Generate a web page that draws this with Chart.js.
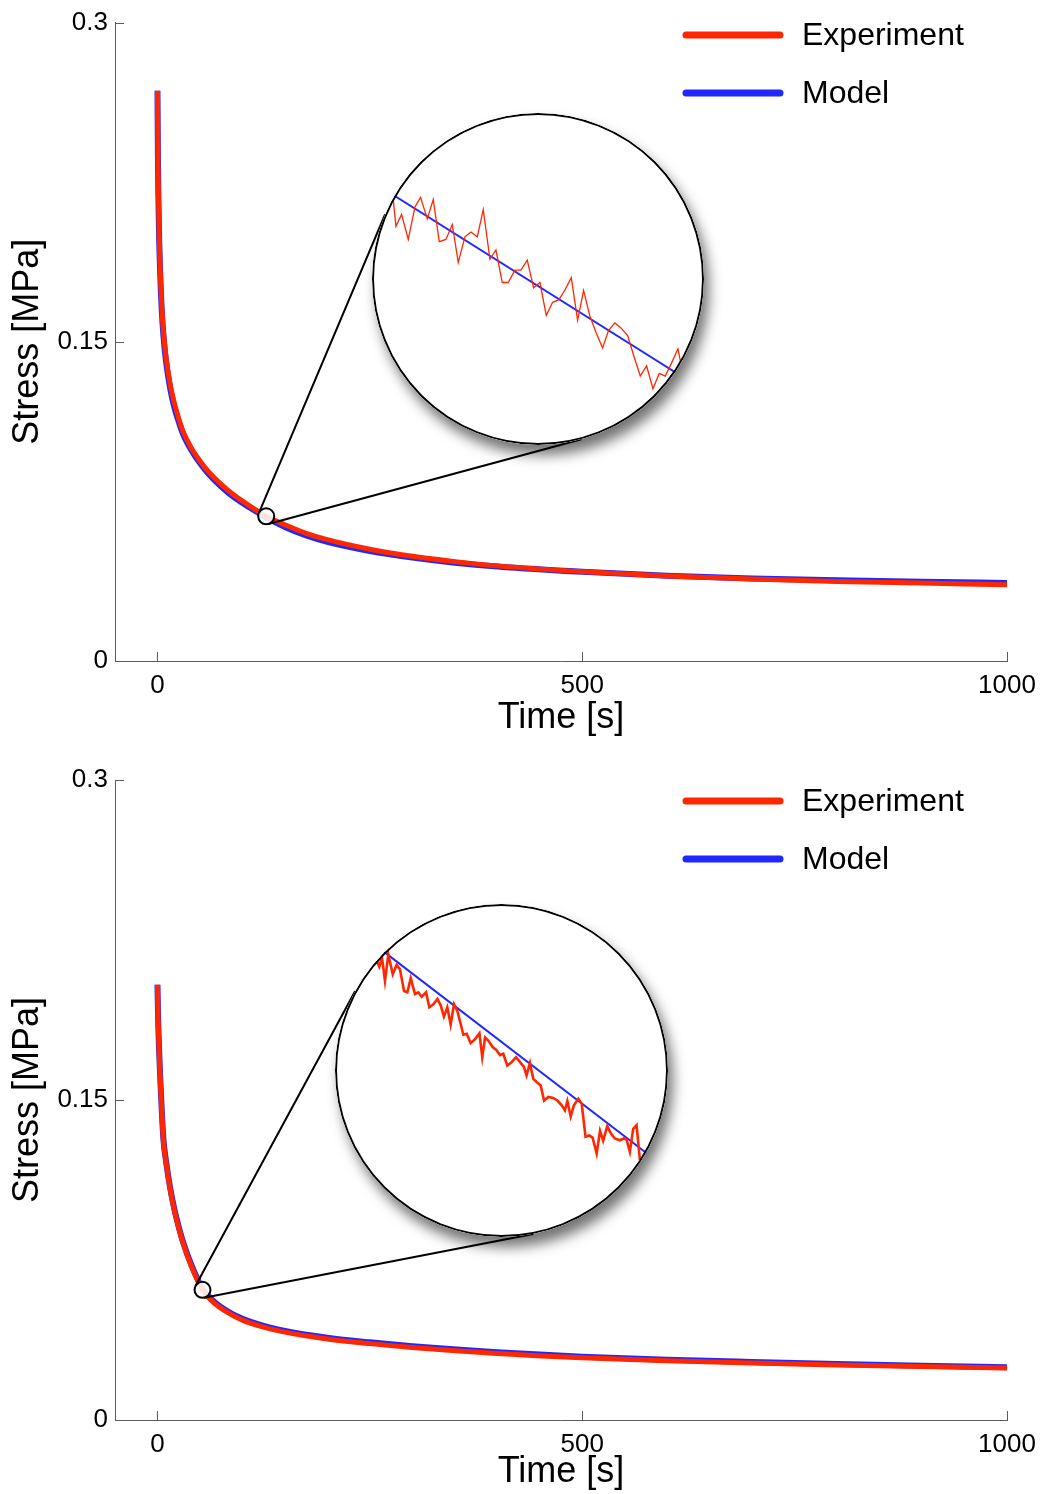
<!DOCTYPE html>
<html>
<head>
<meta charset="utf-8">
<script src="https://cdn.jsdelivr.net/npm/chart.js@4.4.1/dist/chart.umd.min.js"></script>
<style>
    html, body { margin: 0; padding: 0; background: #fff; }
    #page { position: relative; width: 1045px; height: 1494px; overflow: hidden; }
    .main { position: absolute; left: 0; }
    .lens { position: absolute; border-radius: 50%; overflow: hidden; background: #fff;
            box-shadow: 5px 10px 13px rgba(0, 0, 0, 0.55); }
    .lens::after { content: ""; position: absolute; left: 0; top: 0; right: 0; bottom: 0;
                   border: 2px solid #000; border-radius: 50%; }
    .lens canvas { display: block; }
</style>
</head>
<body>
<div id="page">
    <canvas id="top-chart" class="main" width="1045" height="747" style="top:0"></canvas>
    <canvas id="bottom-chart" class="main" width="1045" height="747" style="top:747px"></canvas>
    <div class="lens" style="left:372px;top:113px;width:332px;height:332px">
        <canvas id="top-inset" width="332" height="332"></canvas>
    </div>
    <div class="lens" style="left:335px;top:904px;width:333px;height:333px">
        <canvas id="bottom-inset" width="333" height="333"></canvas>
    </div>
</div>
<script>
const X_TICKS = [0, 500, 1000];
const Y_TICKS = [0, 0.15, 0.3];
const X_RANGE = [-50, 1000];
const Y_RANGE = [0, 0.3];

// stress relaxation, upper panel (time in s, stress in MPa)
const TOP_TIME = [0, 0.5, 1, 2, 3, 5, 7, 10, 15, 20, 25, 30, 40, 50, 60, 75, 90, 110, 128, 150, 175, 200, 250, 300, 350, 400, 500, 600, 700, 800, 900, 1000];
const TOP_EXPERIMENT = [0.268, 0.240, 0.222, 0.200, 0.186, 0.167, 0.155, 0.143, 0.130, 0.121, 0.114, 0.108, 0.100, 0.094, 0.089, 0.083, 0.078, 0.0725, 0.068, 0.0640, 0.0600, 0.0570, 0.0525, 0.0492, 0.0467, 0.0447, 0.0420, 0.0400, 0.0385, 0.0374, 0.0366, 0.0358];
const TOP_MODEL = [0.268, 0.238, 0.220, 0.198, 0.184, 0.165, 0.153, 0.141, 0.128, 0.119, 0.1125, 0.1068, 0.099, 0.093, 0.088, 0.082, 0.077, 0.0718, 0.0675, 0.0630, 0.0590, 0.0560, 0.0517, 0.0486, 0.0462, 0.0444, 0.0419, 0.0401, 0.0388, 0.0379, 0.0372, 0.0367];
const TOP_MARK = [128, 0.068];

// lower panel
const BOTTOM_TIME = [0, 0.5, 1, 2, 3, 5, 7, 10, 15, 20, 25, 30, 40, 53, 65, 80, 100, 125, 150, 200, 250, 300, 400, 500, 600, 700, 800, 900, 1000];
const BOTTOM_EXPERIMENT = [0.204, 0.193, 0.184, 0.172, 0.162, 0.145, 0.131, 0.121, 0.108, 0.098, 0.090, 0.083, 0.072, 0.061, 0.0555, 0.0510, 0.0468, 0.0435, 0.0412, 0.0380, 0.0358, 0.0340, 0.0312, 0.0292, 0.0278, 0.0267, 0.0258, 0.0251, 0.0244];
const BOTTOM_MODEL = [0.204, 0.1935, 0.1846, 0.1726, 0.1626, 0.1456, 0.1316, 0.1216, 0.1086, 0.0986, 0.0906, 0.0836, 0.0726, 0.0616, 0.0561, 0.0516, 0.0474, 0.0441, 0.0418, 0.0386, 0.0364, 0.0346, 0.0318, 0.0297, 0.0283, 0.0272, 0.0262, 0.0254, 0.0247];
const BOTTOM_MARK = [53, 0.061];

// zoomed windows (time in s, stress in kPa)
const TOP_INSET_TIME = [119.80, 119.95, 120.27, 120.65, 121.03, 121.35, 121.73, 122.07, 122.41, 122.79, 123.15, 123.49, 123.87, 124.21, 124.57, 124.91, 125.29, 125.63, 125.99, 126.33, 126.71, 127.05, 127.41, 127.77, 128.13, 128.49, 128.85, 129.21, 129.55, 129.91, 130.27, 130.61, 130.97, 131.33, 131.69, 132.03, 132.39, 132.75, 133.11, 133.47, 133.83, 134.19, 134.55, 134.91, 135.25, 135.61, 135.97, 136.13];
const TOP_INSET_EXPERIMENT = [69.91, 69.32, 69.59, 69.02, 69.76, 69.98, 69.49, 69.93, 68.97, 69.02, 69.36, 68.50, 69.08, 69.19, 69.08, 69.70, 68.57, 68.78, 68.04, 68.04, 68.32, 68.32, 68.55, 67.92, 68.04, 67.29, 67.59, 67.65, 67.87, 68.15, 67.18, 67.86, 67.27, 66.89, 66.55, 66.95, 67.12, 67.00, 66.83, 66.36, 65.91, 66.14, 65.62, 65.97, 65.91, 66.21, 66.53, 66.21];
const TOP_INSET_MODEL_TIME = [118.5, 137.5];
const TOP_INSET_MODEL = [70.36, 65.57];
const TOP_INSET_X = [118.59, 137.45];
const TOP_INSET_Y = [64.34, 71.90];

const BOTTOM_INSET_TIME = [45.93, 46.08, 46.23, 46.40, 46.59, 46.84, 47.06, 47.25, 47.48, 47.67, 47.86, 48.10, 48.29, 48.48, 48.73, 48.91, 49.14, 49.37, 49.56, 49.74, 49.93, 50.12, 50.31, 50.50, 50.84, 51.03, 51.25, 51.50, 51.75, 51.91, 52.07, 52.25, 52.50, 52.69, 52.92, 53.10, 53.33, 53.58, 53.82, 54.05, 54.27, 54.42, 54.61, 54.80, 54.99, 55.22, 55.41, 55.65, 55.93, 56.16, 56.41, 56.59, 56.73, 56.92, 57.10, 57.35, 57.54, 57.76, 57.97, 58.16, 58.39, 58.58, 58.76, 58.99, 59.20, 59.42, 59.70, 59.93, 60.08, 60.27, 60.46, 60.65, 60.84];
const BOTTOM_INSET_EXPERIMENT = [63.48, 63.35, 63.56, 63.03, 63.63, 63.18, 63.39, 63.29, 62.80, 62.77, 63.09, 62.73, 62.77, 62.67, 62.77, 62.43, 62.50, 62.62, 62.47, 62.22, 62.43, 62.04, 62.50, 62.35, 61.81, 61.83, 61.62, 61.71, 61.84, 61.30, 61.75, 61.68, 61.53, 61.47, 61.35, 61.38, 61.11, 61.19, 61.30, 61.19, 61.08, 60.89, 61.17, 60.81, 60.74, 60.66, 60.32, 60.40, 60.38, 60.32, 60.21, 60.10, 60.31, 59.96, 60.21, 60.36, 60.25, 59.50, 59.53, 59.48, 59.12, 59.63, 59.41, 59.74, 59.57, 59.46, 59.42, 59.46, 59.44, 59.16, 59.68, 59.76, 58.97];
const BOTTOM_INSET_MODEL_TIME = [45.0, 62.0];
const BOTTOM_INSET_MODEL = [64.10, 58.89];
const BOTTOM_INSET_X = [43.57, 62.43];
const BOTTOM_INSET_Y = [57.23, 64.77];

const RED = "rgb(255, 38, 0)";
const BLUE = "rgb(32, 40, 255)";
const AXIS = "#5c5c5c";
const FONT = "'Liberation Sans', Arial, Helvetica, sans-serif";

Chart.defaults.font.family = FONT;
Chart.defaults.color = "#000";

const toPoints = (xs, ys) => xs.map((x, i) => ({ x, y: ys[i] }));

const insideTicks = {
    id: "insideTicks",
    afterDraw(chart) {
        const { ctx, chartArea, scales } = chart;
        const len = 9;
        ctx.save();
        ctx.strokeStyle = AXIS;
        ctx.lineWidth = 1;
        ctx.beginPath();
        scales.x.ticks.forEach(t => {
            const px = Math.round(scales.x.getPixelForValue(t.value)) + 0.5;
            ctx.moveTo(px, chartArea.bottom);
            ctx.lineTo(px, chartArea.bottom - len);
        });
        scales.y.ticks.forEach(t => {
            const py = Math.round(scales.y.getPixelForValue(t.value)) + 0.5;
            ctx.moveTo(chartArea.left, py);
            ctx.lineTo(chartArea.left + len, py);
        });
        ctx.stroke();
        ctx.restore();
    }
};

const lineLegend = {
    id: "lineLegend",
    afterDraw(chart, args, opts) {
        const ctx = chart.ctx;
        ctx.save();
        chart.data.datasets.slice(0, 2).forEach((ds, i) => {
            const y = opts.top + i * opts.gap;
            ctx.strokeStyle = ds.borderColor;
            ctx.lineWidth = 7;
            ctx.lineCap = "round";
            ctx.beginPath();
            ctx.moveTo(opts.left, y);
            ctx.lineTo(opts.left + opts.length, y);
            ctx.stroke();
            ctx.fillStyle = "#000";
            ctx.font = "32px " + FONT;
            ctx.textBaseline = "middle";
            ctx.fillText(ds.label, opts.left + opts.length + 22, y + 1);
        });
        ctx.restore();
    }
};

// tangent lines from the marked point to the magnifier, then the marker itself
const lensLines = {
    id: "lensLines",
    afterDatasetsDraw(chart, args, opts) {
        const { ctx, scales } = chart;
        const cx = scales.x.getPixelForValue(opts.at[0]);
        const cy = scales.y.getPixelForValue(opts.at[1]);
        const r1 = opts.radius;
        const lens = opts.lens;
        const dx = lens.x - cx, dy = lens.y - cy;
        const d = Math.hypot(dx, dy);
        const ux = dx / d, uy = dy / d;
        const k = (r1 - lens.r) / d;
        const h = Math.sqrt(1 - k * k);
        ctx.save();
        ctx.strokeStyle = "#000";
        ctx.lineWidth = 2;
        ctx.beginPath();
        [1, -1].forEach(s => {
            const nx = k * ux - s * h * uy;
            const ny = k * uy + s * h * ux;
            ctx.moveTo(cx + r1 * nx, cy + r1 * ny);
            ctx.lineTo(lens.x + lens.r * nx, lens.y + lens.r * ny);
        });
        ctx.stroke();
        ctx.beginPath();
        ctx.arc(cx, cy, r1, 0, Math.PI * 2);
        ctx.fillStyle = "rgba(255, 255, 255, 0.88)";
        ctx.fill();
        ctx.stroke();
        ctx.restore();
    }
};

function renderMain(id, time, experiment, model, frame) {
    return new Chart(document.getElementById(id), {
        type: "line",
        data: {
            datasets: [
                {
                    label: "Experiment",
                    data: toPoints(time, experiment),
                    borderColor: RED,
                    borderWidth: 5,
                    cubicInterpolationMode: "monotone"
                },
                {
                    label: "Model",
                    data: toPoints(time, model),
                    borderColor: BLUE,
                    borderWidth: 6,
                    cubicInterpolationMode: "monotone"
                }
            ]
        },
        options: {
            responsive: false,
            animation: false,
            devicePixelRatio: 1,
            events: [],
            layout: { padding: { left: 0, right: 38, top: frame.top, bottom: 0 } },
            elements: { point: { radius: 0 }, line: { borderJoinStyle: "round", borderCapStyle: "butt" } },
            plugins: {
                legend: { display: false },
                tooltip: { enabled: false },
                lineLegend: frame.legend,
                lensLines: frame.lens
            },
            scales: {
                x: {
                    type: "linear",
                    min: X_RANGE[0],
                    max: X_RANGE[1],
                    afterBuildTicks: s => { s.ticks = X_TICKS.map(v => ({ value: v })); },
                    afterFit: s => { s.height = frame.xHeight; },
                    grid: { display: false, drawTicks: false },
                    border: { display: true, color: AXIS, width: 1 },
                    ticks: { padding: 9, maxRotation: 0, font: { size: 26 }, callback: v => String(v) },
                    title: {
                        display: true,
                        text: "Time [s]",
                        font: { size: 36 },
                        padding: { top: 0, bottom: frame.titlePad }
                    }
                },
                y: {
                    type: "linear",
                    min: Y_RANGE[0],
                    max: Y_RANGE[1],
                    afterBuildTicks: s => { s.ticks = Y_TICKS.map(v => ({ value: v })); },
                    afterFit: s => { s.width = 115; },
                    grid: { display: false, drawTicks: false },
                    border: { display: true, color: AXIS, width: 1 },
                    ticks: { padding: 7, font: { size: 26 }, callback: v => String(v) },
                    title: {
                        display: true,
                        text: "Stress [MPa]",
                        font: { size: 36 },
                        padding: { top: 6, bottom: 0 }
                    }
                }
            }
        },
        plugins: [insideTicks, lineLegend, lensLines]
    });
}

function renderInset(id, time, experiment, modelTime, model, xr, yr, redWidth) {
    return new Chart(document.getElementById(id), {
        type: "line",
        data: {
            datasets: [
                { data: toPoints(time, experiment), borderColor: RED, borderWidth: redWidth },
                { data: toPoints(modelTime, model), borderColor: BLUE, borderWidth: 2 }
            ]
        },
        options: {
            responsive: false,
            animation: false,
            devicePixelRatio: 1,
            events: [],
            layout: { padding: 0 },
            elements: { point: { radius: 0 }, line: { tension: 0 } },
            plugins: { legend: { display: false }, tooltip: { enabled: false } },
            scales: {
                x: { type: "linear", display: false, min: xr[0], max: xr[1] },
                y: { type: "linear", display: false, min: yr[0], max: yr[1] }
            }
        }
    });
}

renderMain("top-chart", TOP_TIME, TOP_EXPERIMENT, TOP_MODEL, {
    top: 22,
    xHeight: 86,
    titlePad: 7,
    legend: { left: 686, length: 94, top: 35, gap: 58 },
    lens: { at: TOP_MARK, radius: 8, lens: { x: 538, y: 279, r: 166 } }
});
renderMain("bottom-chart", BOTTOM_TIME, BOTTOM_EXPERIMENT, BOTTOM_MODEL, {
    top: 33,
    xHeight: 74,
    titlePad: 0,
    legend: { left: 686, length: 94, top: 54, gap: 58 },
    lens: { at: BOTTOM_MARK, radius: 8, lens: { x: 501.5, y: 323.5, r: 166.5 } }
});
renderInset("top-inset", TOP_INSET_TIME, TOP_INSET_EXPERIMENT, TOP_INSET_MODEL_TIME, TOP_INSET_MODEL, TOP_INSET_X, TOP_INSET_Y, 1.3);
renderInset("bottom-inset", BOTTOM_INSET_TIME, BOTTOM_INSET_EXPERIMENT, BOTTOM_INSET_MODEL_TIME, BOTTOM_INSET_MODEL, BOTTOM_INSET_X, BOTTOM_INSET_Y, 2.6);
</script>
</body>
</html>
